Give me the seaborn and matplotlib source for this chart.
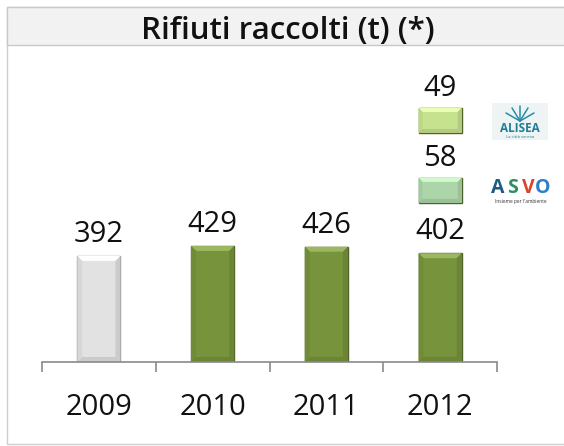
import matplotlib.pyplot as plt
import seaborn as sns
import pandas as pd
from matplotlib.patches import Polygon, Rectangle
from matplotlib.lines import Line2D
from matplotlib.transforms import blended_transform_factory

# Data
years = ["2009", "2010", "2011", "2012"]
tonnes = [392, 429, 426, 402]
bar_colors = ["#e2e2e2", "#77933c", "#77933c", "#77933c"]
edge_colors = ["#8f8f8f", "#4f6228", "#4f6228", "#4f6228"]

# 2012 breakdown by operator
operators = ["ALISEA", "ASVO"]
operator_tonnes = [49, 58]
operator_colors = ["#c6e28e", "#acd6aa"]

W, H = 564, 446

sns.set_theme(style="white")
plt.rcParams["font.family"] = ["Open Sans", "DejaVu Sans"]

fig = plt.figure(figsize=(W / 100, H / 100), dpi=100)

# outer frame and grey title band
fig.patches.append(Rectangle((7 / W, 2 / H), 1, (H - 9) / H, transform=fig.transFigure,
                             fill=False, edgecolor="#cfcfcf", lw=1))
fig.patches.append(Rectangle((7 / W, (H - 45) / H), 1, 38 / H, transform=fig.transFigure,
                             facecolor="#f2f2f2", edgecolor="#c8c8c8", lw=1))
fig.text(288 / W, (H - 39) / H, "Rifiuti raccolti (t) (*)", ha="center", va="baseline",
         fontsize=22.5, fontweight="semibold", color="#111111")

ax = fig.add_axes([42 / W, 84 / H, 455 / W, 312 / H])
df = pd.DataFrame({"anno": years, "t": tonnes})
sns.barplot(data=df, x="anno", y="t", color=bar_colors[1], width=0.38,
            ax=ax, linewidth=1, saturation=1)
ax.set_ylim(0, 1153)
ax.set_xlim(-0.5, len(years) - 0.5)

bars = list(ax.containers[0])
for p, fc, ec in zip(bars, bar_colors, edge_colors):
    p.set_facecolor(fc)
    p.set_edgecolor(ec)


def bevel(patch, d=5):
    # fake the bevelled look of the original bars
    t = patch.get_data_transform()
    inv = t.inverted()
    (x0, y0), (x1, y1) = t.transform(
        [(patch.get_x(), patch.get_y()), (patch.get_x() + patch.get_width(), patch.get_y() + patch.get_height())])
    base = patch.get_facecolor()
    light = tuple(min(1, c + 0.14) for c in base[:3])
    dark = tuple(c * 0.9 for c in base[:3])
    side = tuple(c * 0.95 for c in base[:3])
    shapes = [
        ([(x0, y1), (x1, y1), (x1 - d, y1 - d), (x0 + d, y1 - d)], light),
        ([(x0, y0), (x1, y0), (x1 - d, y0 + d), (x0 + d, y0 + d)], dark),
        ([(x0, y0), (x0, y1), (x0 + d, y1 - d), (x0 + d, y0 + d)], side),
        ([(x1, y0), (x1, y1), (x1 - d, y1 - d), (x1 - d, y0 + d)], dark),
    ]
    for pts, col in shapes:
        ax.add_patch(Polygon(inv.transform(pts), closed=True, facecolor=col, transform=t,
                             edgecolor="none", zorder=patch.get_zorder() + 0.1, clip_on=False))


for p in bars:
    bevel(p)

ax.bar_label(ax.containers[0], labels=[str(v) for v in tonnes], fontsize=21, padding=5, color="#111111")

sns.despine(ax=ax, left=True)
ax.spines["bottom"].set_color("#8a8a8a")
ax.spines["bottom"].set_linewidth(1.2)
ax.set_yticks([])
ax.set_xlabel("")
ax.set_ylabel("")
ax.set_xticks([i - 0.5 for i in range(len(years) + 1)], minor=True)
ax.tick_params(axis="x", which="minor", length=7.5, width=1.2, color="#8a8a8a", direction="out", bottom=True)
ax.tick_params(axis="x", which="major", length=0, labelsize=21, pad=22, labelcolor="#111111")

# 2012 breakdown boxes (legend-like, with operator names)
tr = blended_transform_factory(ax.transData, ax.transAxes)
idx = years.index("2012")
box_bottoms = [0.734, 0.510]
for name, val, col, yb in zip(operators, operator_tonnes, operator_colors, box_bottoms):
    bw = 0.38
    box = Rectangle((idx - bw / 2, yb), bw, 0.08, transform=tr, facecolor=col,
                    edgecolor="#4f6228", lw=1, clip_on=False)
    ax.add_patch(box)
    bevel(box, d=4)
    ax.text(idx, yb + 0.095, str(val), transform=tr, ha="center", va="bottom",
            fontsize=21, color="#111111")

# operator logos drawn as text and strokes
fig.patches.append(Rectangle((492 / W, (H - 140) / H), 56 / W, 37 / H, transform=fig.transFigure,
                             facecolor="#eef3f3", edgecolor="none"))
fig.text(520 / W, (H - 129) / H, "ALISEA", ha="center", va="center", fontsize=8.5,
         fontweight="bold", color="#1c7e97")
fig.text(520 / W, (H - 136.5) / H, "La città serena", ha="center", va="center", fontsize=3,
         color="#1c7e97")
for (xa, ya), (xb, yb) in [((520, 121), (520, 106)), ((520, 121), (512, 108)), ((520, 121), (528, 108)),
                           ((520, 121), (506, 113)), ((520, 121), (534, 113))]:
    fig.add_artist(Line2D([xa / W, xb / W], [(H - ya) / H, (H - yb) / H], transform=fig.transFigure,
                          color="#2a8ea8", lw=1.1))

asvo_cols = ["#1d5b86", "#2e8f62", "#d8452a", "#2f7fc6"]
for k, (ch, col) in enumerate(zip("ASVO", asvo_cols)):
    fig.text((498 + k * 15) / W, (H - 188) / H, ch, ha="center", va="center", fontsize=14,
             fontweight="bold", color=col)
fig.text(521 / W, (H - 201) / H, "Insieme per l'ambiente", ha="center", va="center",
         fontsize=3.5, color="#333333")

fig.savefig("out.png", dpi=100)
